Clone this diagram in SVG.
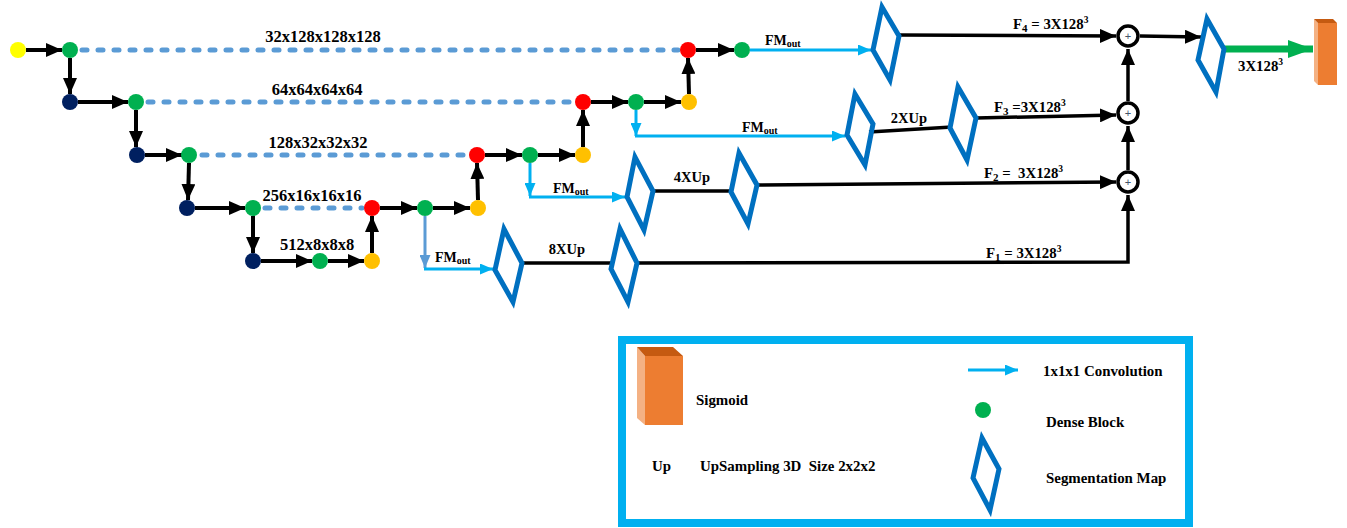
<svg xmlns="http://www.w3.org/2000/svg" width="1347" height="528" viewBox="0 0 1347 528">
<style>
.t{font-family:"Liberation Serif","Times New Roman",serif;font-weight:bold;fill:#000}
.dim{font-size:16.5px;text-anchor:middle}
.up{font-size:14.5px;text-anchor:middle}
.fm{font-size:14px}
.fl{font-size:14.8px}
.lg{font-size:14.9px}
.blk{stroke:#000;stroke-width:4;fill:none}
.fln{stroke:#000;stroke-width:3.5;fill:none}
.dash{stroke:#5b9bd5;stroke-width:5;fill:none;stroke-dasharray:5 11;stroke-linecap:round}
.cy{stroke:#00b0f0;stroke-width:3;fill:none}
.sb{stroke:#5b9bd5;stroke-width:3;fill:none}
.dm{fill:none;stroke:#0070c0;stroke-width:5;stroke-linejoin:miter}
.yl{fill:#ffff00}.gr{fill:#00b050}.nv{fill:#002060}.rd{fill:#ff0000}.or{fill:#ffc000}
.plus{fill:#fff;stroke:#000;stroke-width:3.5}
.pt{font-family:"Liberation Sans",Arial,sans-serif;font-size:11px;fill:#44546a;text-anchor:middle}
</style>
<defs>
<marker id="ab" markerUnits="userSpaceOnUse" markerWidth="16" markerHeight="14" refX="16" refY="7" orient="auto"><path d="M0,0 L16,7 L0,14 z" fill="#000"/></marker>
<marker id="ac" markerUnits="userSpaceOnUse" markerWidth="13" markerHeight="11" refX="13" refY="5.5" orient="auto"><path d="M0,0 L13,5.5 L0,11 z" fill="#00b0f0"/></marker>
<marker id="as" markerUnits="userSpaceOnUse" markerWidth="13" markerHeight="11" refX="13" refY="5.5" orient="auto"><path d="M0,0 L13,5.5 L0,11 z" fill="#5b9bd5"/></marker>
<marker id="ag" markerUnits="userSpaceOnUse" markerWidth="25" markerHeight="18" refX="25" refY="9" orient="auto"><path d="M0,0 L25,9 L0,18 z" fill="#00b050"/></marker>
</defs>

<g id="connectors">
<line class="blk" x1="26" y1="50" x2="62" y2="50" marker-end="url(#ab)"/>
<line class="blk" x1="70" y1="58" x2="70" y2="94" marker-end="url(#ab)"/>
<line class="blk" x1="78" y1="102" x2="128" y2="102" marker-end="url(#ab)"/>
<line class="blk" x1="136" y1="110" x2="136" y2="147" marker-end="url(#ab)"/>
<line class="blk" x1="145" y1="155" x2="182" y2="155" marker-end="url(#ab)"/>
<line class="blk" x1="189" y1="163" x2="188" y2="200" marker-end="url(#ab)"/>
<line class="blk" x1="195" y1="208" x2="245" y2="208" marker-end="url(#ab)"/>
<line class="blk" x1="253" y1="216" x2="253" y2="253" marker-end="url(#ab)"/>
<line class="blk" x1="261" y1="261" x2="312" y2="261" marker-end="url(#ab)"/>
<line class="blk" x1="328" y1="261" x2="364" y2="261" marker-end="url(#ab)"/>
<line class="blk" x1="372" y1="253" x2="372" y2="216" marker-end="url(#ab)"/>
<line class="blk" x1="380" y1="208" x2="417" y2="208" marker-end="url(#ab)"/>
<line class="blk" x1="433" y1="208" x2="470" y2="208" marker-end="url(#ab)"/>
<line class="blk" x1="478" y1="200" x2="477" y2="163" marker-end="url(#ab)"/>
<line class="blk" x1="485" y1="155" x2="522" y2="155" marker-end="url(#ab)"/>
<line class="blk" x1="538" y1="155" x2="575" y2="155" marker-end="url(#ab)"/>
<line class="blk" x1="583" y1="147" x2="583" y2="110" marker-end="url(#ab)"/>
<line class="blk" x1="591" y1="102" x2="628" y2="102" marker-end="url(#ab)"/>
<line class="blk" x1="644" y1="102" x2="681" y2="102" marker-end="url(#ab)"/>
<line class="blk" x1="689" y1="94" x2="688" y2="58" marker-end="url(#ab)"/>
<line class="blk" x1="696" y1="50" x2="734" y2="50" marker-end="url(#ab)"/>
<line class="dash" x1="82" y1="50" x2="678" y2="50"/>
<line class="dash" x1="148" y1="102" x2="573" y2="102"/>
<line class="dash" x1="202" y1="155" x2="467" y2="155"/>
<line class="dash" x1="265" y1="208" x2="362" y2="208"/>
<line class="cy" x1="750" y1="50" x2="871" y2="50" marker-end="url(#ac)"/>
<line class="cy" x1="636" y1="110" x2="636" y2="136" marker-end="url(#ac)"/>
<line class="cy" x1="635" y1="136" x2="845" y2="136" marker-end="url(#ac)"/>
<line class="cy" x1="530" y1="163" x2="530" y2="196" marker-end="url(#ac)"/>
<line class="cy" x1="529" y1="197" x2="625" y2="197" marker-end="url(#ac)"/>
<line class="sb" x1="425" y1="216" x2="425" y2="268" marker-end="url(#as)"/>
<line class="cy" x1="424" y1="269" x2="493" y2="269" marker-end="url(#ac)"/>
<line class="fln" x1="520" y1="263" x2="612" y2="263"/>
<line class="fln" x1="652" y1="191" x2="731" y2="191"/>
<line class="fln" x1="869" y1="132" x2="952" y2="127"/>
<line class="fln" x1="899" y1="35" x2="1116" y2="36" marker-end="url(#ab)"/>
<line class="fln" x1="976" y1="118" x2="1116" y2="115" marker-end="url(#ab)"/>
<line class="fln" x1="757" y1="185" x2="1116" y2="182" marker-end="url(#ab)"/>
<polyline class="fln" points="637,263 1128,262 1128,195" marker-end="url(#ab)"/>
<line class="fln" x1="1128" y1="170" x2="1128" y2="126" marker-end="url(#ab)"/>
<line class="fln" x1="1128" y1="101" x2="1128" y2="49" marker-end="url(#ab)"/>
<line class="fln" x1="1140" y1="36" x2="1201" y2="37" marker-end="url(#ab)"/>
<line x1="1224" y1="49" x2="1313" y2="49" stroke="#00b050" stroke-width="7" marker-end="url(#ag)"/>
</g>

<g id="nodes-circles">
<circle class="yl" cx="18" cy="50" r="8"/>
<circle class="gr" cx="70" cy="50" r="8"/>
<circle class="nv" cx="70" cy="102" r="8"/>
<circle class="gr" cx="136" cy="102" r="8"/>
<circle class="nv" cx="137" cy="155" r="8"/>
<circle class="gr" cx="189" cy="155" r="8"/>
<circle class="nv" cx="187" cy="208" r="8"/>
<circle class="gr" cx="253" cy="208" r="8"/>
<circle class="nv" cx="253" cy="261" r="8"/>
<circle class="gr" cx="320" cy="261" r="8"/>
<circle class="or" cx="372" cy="261" r="8"/>
<circle class="rd" cx="372" cy="208" r="8"/>
<circle class="gr" cx="425" cy="208" r="8"/>
<circle class="or" cx="478" cy="208" r="8"/>
<circle class="rd" cx="477" cy="155" r="8"/>
<circle class="gr" cx="530" cy="155" r="8"/>
<circle class="or" cx="583" cy="155" r="8"/>
<circle class="rd" cx="583" cy="102" r="8"/>
<circle class="gr" cx="636" cy="102" r="8"/>
<circle class="or" cx="689" cy="102" r="8"/>
<circle class="rd" cx="688" cy="50" r="8"/>
<circle class="gr" cx="742" cy="50" r="8"/>
</g>

<g id="seg-maps">
<polygon id="d4" class="dm" points="873,50 882,7 899,36 890,80"/>
<polygon id="d3a" class="dm" points="847,135 855,94 873,124 865,165"/>
<polygon id="d3b" class="dm" points="950,128 958,87 976,118 967,160"/>
<polygon id="d2a" class="dm" points="627,197 635,157 653,191 644,230"/>
<polygon id="d2b" class="dm" points="731,192 739,153 757,185 748,224"/>
<polygon id="d1a" class="dm" points="495,270 504,229 522,263 513,302"/>
<polygon id="d1b" class="dm" points="611,269 620,229 637,263 628,302"/>
<polygon id="dout" class="dm" points="1198,60 1207,19 1224,49 1216,92"/>
</g>

<g id="sums">
<circle class="plus" cx="1128" cy="36" r="10"/><text class="pt" x="1128" y="40">+</text>
<circle class="plus" cx="1128" cy="113" r="10"/><text class="pt" x="1128" y="117">+</text>
<circle class="plus" cx="1128" cy="182" r="10"/><text class="pt" x="1128" y="186">+</text>
</g>

<g id="sigmoid-out">
<polygon points="1314,19 1318,23 1318,85 1314,81" fill="#f4b183"/>
<polygon points="1314,19 1333,19 1337,23 1318,23" fill="#c55a11"/>
<rect x="1318" y="23" width="19" height="62" fill="#ed7d31"/>
</g>

<g id="labels">
<text class="t dim" x="323" y="42">32x128x128x128</text>
<text class="t dim" x="317" y="95">64x64x64x64</text>
<text class="t dim" x="318" y="148">128x32x32x32</text>
<text class="t dim" x="312" y="201">256x16x16x16</text>
<text class="t dim" x="317" y="250">512x8x8x8</text>
<text class="t fm" x="765" y="45">FM<tspan font-size="10" dy="2">out</tspan></text>
<text class="t fm" x="742" y="132">FM<tspan font-size="10" dy="2">out</tspan></text>
<text class="t fm" x="553" y="193">FM<tspan font-size="10" dy="2">out</tspan></text>
<text class="t fm" x="435" y="262">FM<tspan font-size="10" dy="2">out</tspan></text>
<text class="t up" x="909" y="123">2XUp</text>
<text class="t up" x="692" y="182">4XUp</text>
<text class="t up" x="567" y="254">8XUp</text>
<text class="t fl" x="1013" y="29">F<tspan font-size="11" dy="3">4</tspan><tspan dy="-3"> = 3X128</tspan><tspan font-size="9.5" dy="-6">3</tspan></text>
<text class="t fl" x="994" y="112">F<tspan font-size="11" dy="3">3</tspan><tspan dy="-3"> =3X128</tspan><tspan font-size="9.5" dy="-6">3</tspan></text>
<text class="t fl" x="984" y="178" xml:space="preserve">F<tspan font-size="11" dy="3">2</tspan><tspan dy="-3"> =  3X128</tspan><tspan font-size="9.5" dy="-6">3</tspan></text>
<text class="t fl" x="986" y="258">F<tspan font-size="11" dy="3">1</tspan><tspan dy="-3"> = 3X128</tspan><tspan font-size="9.5" dy="-6">3</tspan></text>
<text class="t fl" x="1238" y="71">3X128<tspan font-size="9.5" dy="-6">3</tspan></text>
</g>

<g id="legend">
<rect x="622" y="340" width="567" height="183" fill="#fff" stroke="#00b0f0" stroke-width="8"/>
<polygon points="637,347 645,356 645,425 637,418" fill="#f4b183"/>
<polygon points="637,347 673,347 683,356 645,356" fill="#c55a11"/>
<rect x="645" y="356" width="38" height="69" fill="#ed7d31"/>
<text class="t lg" x="696" y="405">Sigmoid</text>
<text class="t lg" x="652" y="471">Up</text>
<text class="t lg" x="700" y="471" xml:space="preserve">UpSampling 3D  Size 2x2x2</text>
<line class="cy" x1="968" y1="370" x2="1018" y2="370" marker-end="url(#ac)"/>
<text class="t lg" x="1043" y="376">1x1x1 Convolution</text>
<circle class="gr" cx="983" cy="410" r="8"/>
<text class="t lg" x="1046" y="427">Dense Block</text>
<polygon class="dm" points="973,478 982,438 999,469 990,510"/>
<text class="t lg" x="1046" y="483">Segmentation Map</text>
</g>
</svg>
